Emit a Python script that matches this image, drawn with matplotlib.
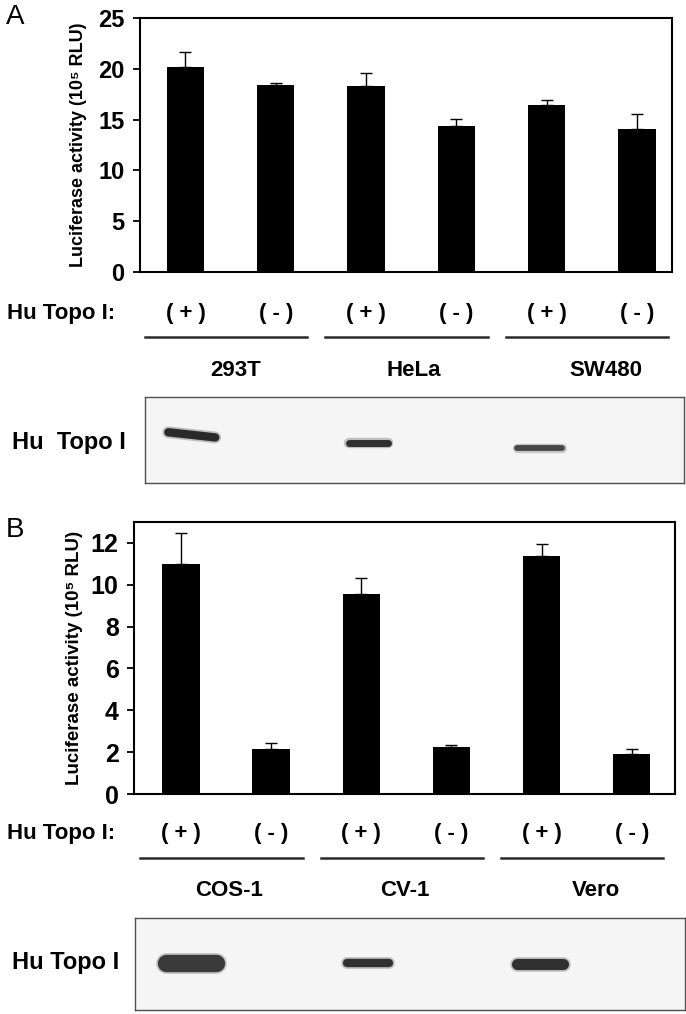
import matplotlib
matplotlib.use("Agg")
import matplotlib.pyplot as plt
import matplotlib.transforms as mtransforms

plt.rcParams['font.family'] = ['Liberation Sans', 'DejaVu Sans']

# ---- data ----
treat_labels = ['( + )', '( - )', '( + )', '( - )', '( + )', '( - )']

cells_a = ['293T', 'HeLa', 'SW480']
lucif_a = [20.2, 18.4, 18.3, 14.4, 16.4, 14.1]
err_a = [1.5, 0.2, 1.3, 0.7, 0.5, 1.5]

cells_b = ['COS-1', 'CV-1', 'Vero']
lucif_b = [11.0, 2.15, 9.58, 2.23, 11.39, 1.93]
err_b = [1.47, 0.29, 0.72, 0.13, 0.56, 0.24]

# western blot bands: lane position, band width, level, thickness (pt), grey, tilt
blot_a_pos = [0.07, 2.03, 3.92]
blot_a_width = [0.52, 0.44, 0.50]
blot_a_level = [0.56, 0.47, 0.41]
blot_a_thick = [6.0, 5.0, 4.2]
blot_a_color = ['#1a1a1a', '#202020', '#3a3a3a']
blot_a_tilt = [0.03, 0.0, 0.0]

blot_b_pos = [0.11, 2.08, 3.99]
blot_b_width = [0.56, 0.46, 0.52]
blot_b_level = [0.51, 0.51, 0.50]
blot_b_thick = [12.5, 6.0, 8.0]
blot_b_color = ['#2b2b2b', '#222222', '#202020']
blot_b_tilt = [0.0, 0.0, 0.0]

W, H = 686, 1014
fig = plt.figure(figsize=(W / 100, H / 100), dpi=100)


def fx(px):
    return px / W


def fy(px):
    return 1 - px / H


def bar_panel(rect, vals, errs, ylim, yticks, xlim, tick_fs, lab_fs, labelpad):
    ax = fig.add_axes(rect)
    x = list(range(len(vals)))
    ax.bar(x, vals, width=0.415, color='black', zorder=2)
    ax.errorbar(x, vals, yerr=[[0] * len(errs), errs], fmt='none',
                ecolor='black', elinewidth=1.0, capsize=4.5, capthick=1.0, zorder=3)
    ax.set_xlim(*xlim)
    ax.set_ylim(*ylim)
    ax.set_yticks(yticks)
    ax.set_xticks([])
    ax.tick_params(axis='y', direction='out', length=5, width=1.3, pad=6,
                   labelsize=tick_fs)
    for lab in ax.get_yticklabels():
        lab.set_fontweight('bold')
    for s in ax.spines.values():
        s.set_linewidth(1.5)
    ax.set_ylabel('Luciferase activity (10⁵ RLU)', fontsize=lab_fs, fontweight='bold',
                  labelpad=labelpad)
    return ax


def treat_rows(ax, cells, y_treat, y_line, y_name, name_off):
    tr = mtransforms.blended_transform_factory(ax.transData, fig.transFigure)
    fig.text(fx(7), fy(y_treat), 'Hu Topo I:', fontsize=16, fontweight='bold',
             ha='left', va='center')
    for i, t in enumerate(treat_labels):
        ax.text(i, fy(y_treat), t, transform=tr, fontsize=16, fontweight='bold',
                ha='center', va='center')
    for g, name in enumerate(cells):
        ax.plot([2 * g - 0.45, 2 * g + 1.35], [fy(y_line), fy(y_line)], transform=tr,
                color='#2a2a2a', lw=1.8, clip_on=False)
        ax.text(2 * g + name_off[g], fy(y_name), name, transform=tr, fontsize=16,
                fontweight='bold', ha='center', va='center')


def blot(rect, xlim, pos, widths, levels, thick, colors, tilt, y_label, label):
    bx = fig.add_axes(rect)
    bx.set_facecolor('#f5f5f5')
    bx.set_xlim(*xlim)
    bx.set_ylim(0, 1)
    bx.set_xticks([])
    bx.set_yticks([])
    for s in bx.spines.values():
        s.set_linewidth(1.0)
        s.set_color('#505050')
    for p, w, lv, th, c, tl in zip(pos, widths, levels, thick, colors, tilt):
        # soft halo then core of the band
        bx.plot([p - w / 2, p + w / 2], [lv + tl, lv - tl], color=c, lw=th + 2.5,
                solid_capstyle='round', alpha=0.25)
        bx.plot([p - w / 2, p + w / 2], [lv + tl, lv - tl], color=c, lw=th,
                solid_capstyle='round', alpha=0.9)
    fig.text(fx(12), fy(y_label), label, fontsize=17, fontweight='bold',
             ha='left', va='center')
    return bx


# ---- panel A ----
axA = bar_panel([fx(140), fy(272), fx(532), 254 / H], lucif_a, err_a,
                (0, 25), [0, 5, 10, 15, 20, 25], (-0.504, 5.39), 17, 13, 8)
fig.text(fx(6), fy(17), 'A', fontsize=20, ha='left', va='center')
treat_rows(axA, cells_a, 313, 337, 370, [0.55, 0.53, 0.66])
blot([fx(145), fy(483), fx(539), 86 / H], (-0.449, 5.527),
     blot_a_pos, blot_a_width, blot_a_level, blot_a_thick, blot_a_color, blot_a_tilt,
     443, 'Hu  Topo I')

# ---- panel B ----
axB = bar_panel([fx(134), fy(794), fx(541), 272 / H], lucif_b, err_b,
                (0, 13), [0, 2, 4, 6, 8, 10, 12], (-0.52, 5.48), 18, 13.5, 6)
fig.text(fx(6), fy(530), 'B', fontsize=20, ha='left', va='center')
treat_rows(axB, cells_b, 833, 858, 890, [0.53, 0.48, 0.6])
blot([fx(135), fy(1010), fx(550), 92 / H], (-0.51, 5.6),
     blot_b_pos, blot_b_width, blot_b_level, blot_b_thick, blot_b_color, blot_b_tilt,
     963, 'Hu Topo I')

fig.savefig('out.png', dpi=100)
